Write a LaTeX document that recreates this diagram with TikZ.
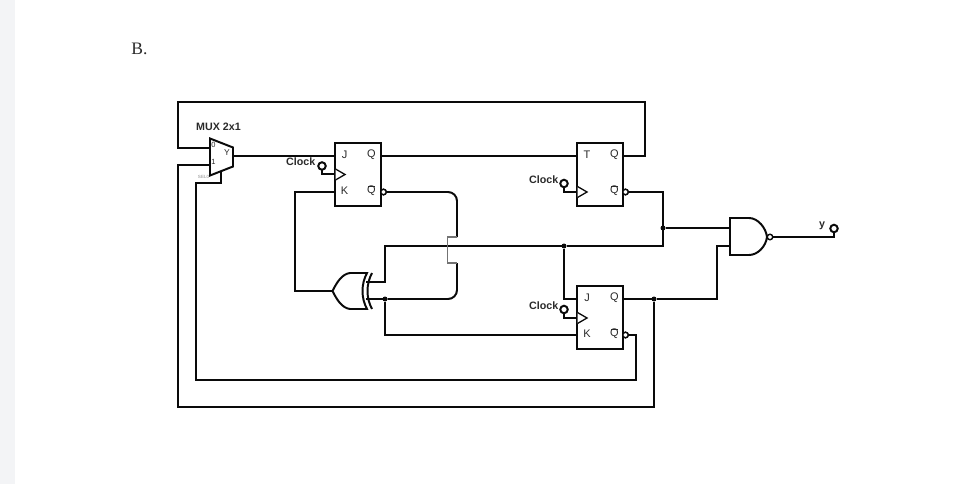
\documentclass[tikz,border=0pt]{standalone}
\usepackage{fontspec}
\setmainfont{Liberation Sans}
\newfontfamily\serifb{Liberation Serif}
\definecolor{ink}{HTML}{0A0A0A}
\definecolor{lab}{HTML}{2A2A2A}
\definecolor{strip}{HTML}{F3F4F6}
\tikzset{
  wire/.style={draw=ink,line width=1.97pt,line join=miter},
  thinwire/.style={draw=black!55,line width=1.1pt},
  body/.style={draw=ink,line width=1.97pt,fill=white},
  ffbox/.style={draw=ink,line width=1.97pt,fill=white,rectangle,minimum width=46pt,minimum height=63pt,inner sep=0pt,outer sep=0pt},
  pinlab/.style={font=\fontsize{11}{12}\selectfont,text=lab,inner sep=0pt},
  boldlab/.style={font=\fontsize{10.7}{12}\selectfont\bfseries,text=lab,inner sep=0pt},
  terminal/.style={circle,draw=ink,line width=1.97pt,fill=white,minimum size=7.5pt,inner sep=0pt,outer sep=0pt},
  bubble/.style={circle,draw=ink,line width=1.4pt,fill=white,minimum size=5.5pt,inner sep=0pt,outer sep=0pt},
  jointdot/.style={circle,fill=ink,minimum size=5pt,inner sep=0pt,outer sep=0pt},
  clk/.style={draw=ink,line width=1.3pt,fill=white}
}
\begin{document}
\begin{tikzpicture}[x=1pt,y=-1pt]
\useasboundingbox (0,0) rectangle (961,484);
\fill[white] (0,0) rectangle (961,484);
\fill[strip] (0,0) rectangle (14.5,484);

\node[font=\serifb\fontsize{17.5}{18}\selectfont,text=lab,inner sep=0pt] (title) at (139.5,48.5) {B.};
\node[boldlab] (muxlabel) at (218.5,127) {MUX 2x1};

% pin coordinates
\coordinate (mux0) at (210,148);
\coordinate (mux1) at (210,165);
\coordinate (muxy) at (233,156);
\coordinate (muxs) at (221,171);
\coordinate (ff1j) at (335,156);
\coordinate (ff1k) at (335,192);
\coordinate (ff1q) at (381,156);
\coordinate (ff2t) at (577,156);
\coordinate (ff2q) at (623,156);
\coordinate (ff3j) at (577,299);
\coordinate (ff3k) at (577,335);
\coordinate (ff3q) at (623,299);
\coordinate (xorout) at (332.5,291);
\coordinate (xora) at (366,282);
\coordinate (xorb) at (366,299);
\coordinate (nanda) at (730,228);
\coordinate (nandb) at (730,246);

% wires
\draw[wire] (mux0) -| (178,102) -| (645,156) -- (ff2q);
\draw[wire] (muxy) -- (ff1j);
\draw[wire] (ff1q) -- (ff2t);
\node[jointdot] (j3q) at (654,299) {};
\node[jointdot] (jfb) at (385,299) {};
\node[jointdot] (jbus) at (564,246) {};
\node[jointdot] (j2nq) at (663,228) {};
\node[bubble] (ff1nq) at (383.5,192) {};
\node[bubble] (ff2nq) at (625.5,192) {};
\node[bubble] (ff3nq) at (625.5,335) {};
\draw[wire] (mux1) -| (178,407) -| (j3q);
\draw[wire] (muxs) -- (221,183) -| (196,380) -| (636,335) -- (ff3nq);
\draw[wire] (ff1k) -| (295,291) -- (xorout);
\draw[wire] (xora) -- (385,282) |- (jbus) -- (663,246) |- (ff2nq);
\draw[wire] (jbus) |- (ff3j);
\draw[wire] (j2nq) -- (nanda);
\draw[wire] (xorb) -- (jfb) |- (ff3k);
\draw[wire] (ff3q) -- (j3q) -- (717,299) |- (nandb);
\draw[wire,rounded corners=9pt] (ff1nq) -- (457,192) -- (457,237);
\draw[wire,rounded corners=9pt] (457,263) -- (457,299) -- (jfb);
\draw[thinwire] (457,237) -- (447.5,237) -- (447.5,263) -- (457,263);

% flip-flops
\node[ffbox] (ff1) at (358,174.5) {};
\node[ffbox] (ff2) at (600,174.5) {};
\node[ffbox] (ff3) at (600,317.5) {};
\node[bubble] (ff1nqb) at (383.5,192) {};
\node[bubble] (ff2nqb) at (625.5,192) {};
\node[bubble] (ff3nqb) at (625.5,335) {};
\node[pinlab] (l1j) at (344.5,155) {J};
\node[pinlab] (l1q) at (371.5,154.5) {Q};
\node[pinlab] (l1k) at (344.5,190.5) {K};
\node[pinlab] (l1n) at (371.5,190.8) {Q};
\draw[lab,line width=.9pt] (368,186.5) -- (375,186.5);
\node[pinlab] (l2t) at (587,155) {T};
\node[pinlab] (l2q) at (614.5,154.5) {Q};
\node[pinlab] (l2n) at (614.5,190.8) {Q};
\draw[lab,line width=.9pt] (611,186.5) -- (618,186.5);
\node[pinlab] (l3j) at (587,298) {J};
\node[pinlab] (l3q) at (614.5,298) {Q};
\node[pinlab] (l3k) at (587,334) {K};
\node[pinlab] (l3n) at (614.5,334) {Q};
\draw[lab,line width=.9pt] (611,329.7) -- (618,329.7);

% clocks
\node[terminal] (c1) at (322,166) {};
\node[terminal] (c2) at (564,183.5) {};
\node[terminal] (c3) at (564,309.5) {};
\draw[wire] (c1) |- (335,174);
\draw[wire] (c2) |- (577,192);
\draw[wire] (c3) |- (577,318);
\draw[clk] (335.5,169) -- (345,174.5) -- (335.5,180) ;
\draw[clk] (577.5,186.5) -- (587,192) -- (577.5,197.5);
\draw[clk] (577.5,312.5) -- (587,318) -- (577.5,323.5);
\node[boldlab,anchor=east] (cl1) at (315.5,162) {Clock};
\node[boldlab,anchor=east] (cl2) at (558.5,180) {Clock};
\node[boldlab,anchor=east] (cl3) at (558.5,306) {Clock};

% mux
\draw[body] (210,138.5) -- (233,147.5) -- (233,166.5) -- (210,175.5) -- cycle;
\node[font=\fontsize{7.5}{8}\selectfont,text=lab,inner sep=0pt] (m0) at (213.5,144.5) {0};
\node[font=\fontsize{8.5}{9}\selectfont,text=lab,inner sep=0pt] (my) at (227,152.5) {Y};
\node[font=\fontsize{7.5}{8}\selectfont,text=lab,inner sep=0pt] (m1) at (213.5,161.5) {1};
\node[font=\fontsize{4.5}{5}\selectfont,text=black!45,inner sep=0pt] (ms) at (203.5,176.5) {SEL0};

% xor
\draw[body] (367,273) -- (350,273) .. controls (342,274) and (337,282) .. (332.5,291)
  .. controls (337,300) and (342,308) .. (350,309) -- (367,309) .. controls (361,298) and (361,284) .. (367,273) -- cycle;
\draw[draw=ink,line width=1.97pt] (372,273) .. controls (366,284) and (366,298) .. (372,309);

% nand
\draw[body] (730,218) -- (749,218) .. controls (758,218) and (766,228) .. (767,237)
  .. controls (766,246) and (758,255) .. (749,255) -- (730,255) -- cycle;
\node[bubble] (nandbub) at (770,237) {};
\node[terminal] (yout) at (834,228.5) {};
\draw[wire] (nandbub) -| (yout);
\node[boldlab] (ylab) at (822,226) {y};
\end{tikzpicture}
\end{document}
